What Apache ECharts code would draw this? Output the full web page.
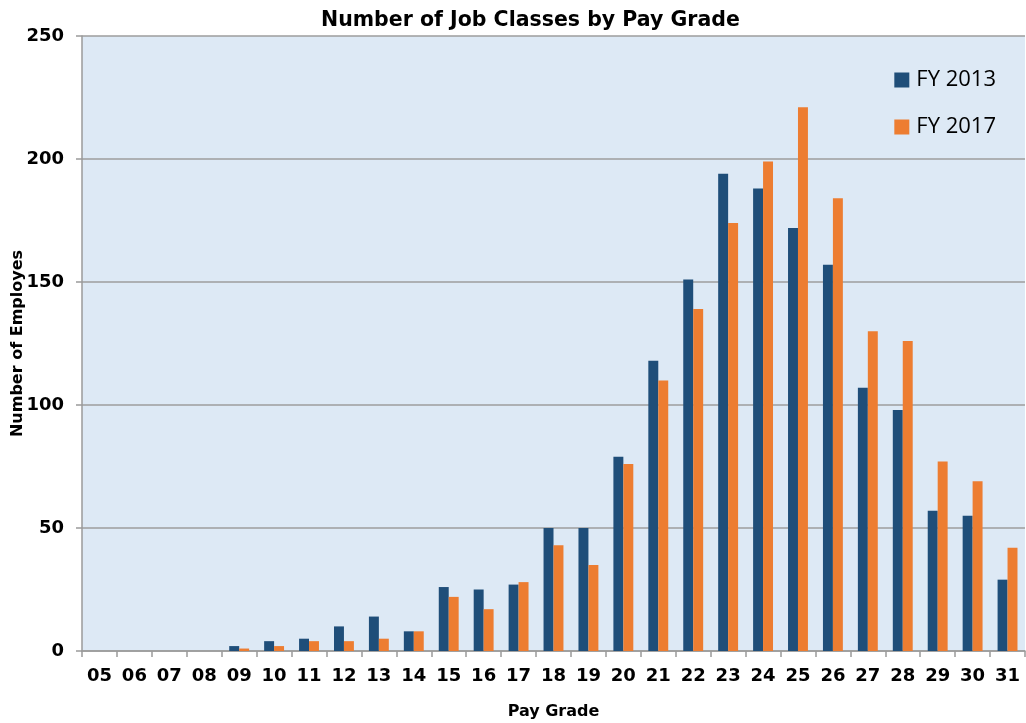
<!DOCTYPE html>
<html>
<head>
<meta charset="utf-8">
<title>Number of Job Classes by Pay Grade</title>
<script src="https://cdn.jsdelivr.net/npm/echarts@6/dist/echarts.min.js"></script>
<style>
  html, body { margin: 0; padding: 0; background: #ffffff; }
  #chart { width: 1026px; height: 723px; }
</style>
</head>
<body>
<div id="chart"></div>
<script>
// Pay grades on the category axis
const payGrades = ['05','06','07','08','09','10','11','12','13','14','15','16','17','18',
                   '19','20','21','22','23','24','25','26','27','28','29','30','31'];

// Job classes per pay grade
const fy2013 = [0,0,0,0,2,4,5,10,14,8,26,25,27,50,50,79,118,151,194,188,172,157,107,98,57,55,29];
const fy2017 = [0,0,0,0,1,2,4,4,5,8,22,17,28,43,35,76,110,139,174,199,221,184,130,126,77,69,42];

const seriesNames = ['FY 2013', 'FY 2017'];
const yTicks = { min: 0, max: 250, interval: 50 };

const boldFont = '"DejaVu Sans", "Liberation Sans", Arial, sans-serif';

const chart = echarts.init(document.getElementById('chart'));

chart.setOption({
  animation: false,
  title: {
    text: 'Number of Job Classes by Pay Grade',
    left: 316,
    top: 5,
    textStyle: { fontFamily: boldFont, fontWeight: 'bold', fontSize: 20.5, color: '#000' }
  },
  legend: {
    orient: 'vertical',
    right: 25,
    top: 64,
    itemWidth: 15,
    itemHeight: 15,
    itemGap: 25,
    icon: 'rect',
    textStyle: { fontFamily: '"Open Sans", "Liberation Sans", sans-serif', fontSize: 22, color: '#000', padding: [0, 0, 0, 2] },
    data: seriesNames
  },
  grid: {
    left: 82, right: 1, top: 36, bottom: 72,
    outerBoundsMode: 'none',
    show: true,
    backgroundColor: '#dde9f5',
    borderWidth: 0
  },
  xAxis: {
    type: 'category',
    data: payGrades,
    name: 'Pay Grade',
    nameLocation: 'middle',
    nameGap: 53,
    nameMoveOverlap: false,
    nameTextStyle: { fontFamily: boldFont, fontWeight: 'bold', fontSize: 16, color: '#000' },
    axisLine: { lineStyle: { color: '#9a9a9a', width: 1.5 } },
    axisTick: { show: true, length: 6, lineStyle: { color: '#9a9a9a', width: 1.5 } },
    axisLabel: { fontFamily: boldFont, fontWeight: 'bold', fontSize: 18, color: '#000', margin: 16 },
    splitLine: { show: false }
  },
  yAxis: {
    type: 'value',
    min: yTicks.min,
    max: yTicks.max,
    interval: yTicks.interval,
    name: 'Number of Employes',
    nameLocation: 'middle',
    nameGap: 56,
    nameMoveOverlap: false,
    nameRotate: 90,
    nameTextStyle: { fontFamily: boldFont, fontWeight: 'bold', fontSize: 16, color: '#000' },
    axisLine: { show: true, lineStyle: { color: '#9a9a9a', width: 1.5 } },
    axisTick: { show: true, length: 6, lineStyle: { color: '#9a9a9a', width: 1.5 } },
    axisLabel: { fontFamily: boldFont, fontWeight: 'bold', fontSize: 18, color: '#000', margin: 18 },
    splitLine: { show: true, lineStyle: { color: '#9c9c9c', width: 1.5 } }
  },
  series: [
    {
      name: seriesNames[0],
      type: 'bar',
      data: fy2013,
      barGap: '0%',
      barCategoryGap: '43%',
      itemStyle: { color: '#1f4e79' }
    },
    {
      name: seriesNames[1],
      type: 'bar',
      data: fy2017,
      barGap: '0%',
      barCategoryGap: '43%',
      itemStyle: { color: '#ed7d31' }
    }
  ]
});
</script>
</body>
</html>
